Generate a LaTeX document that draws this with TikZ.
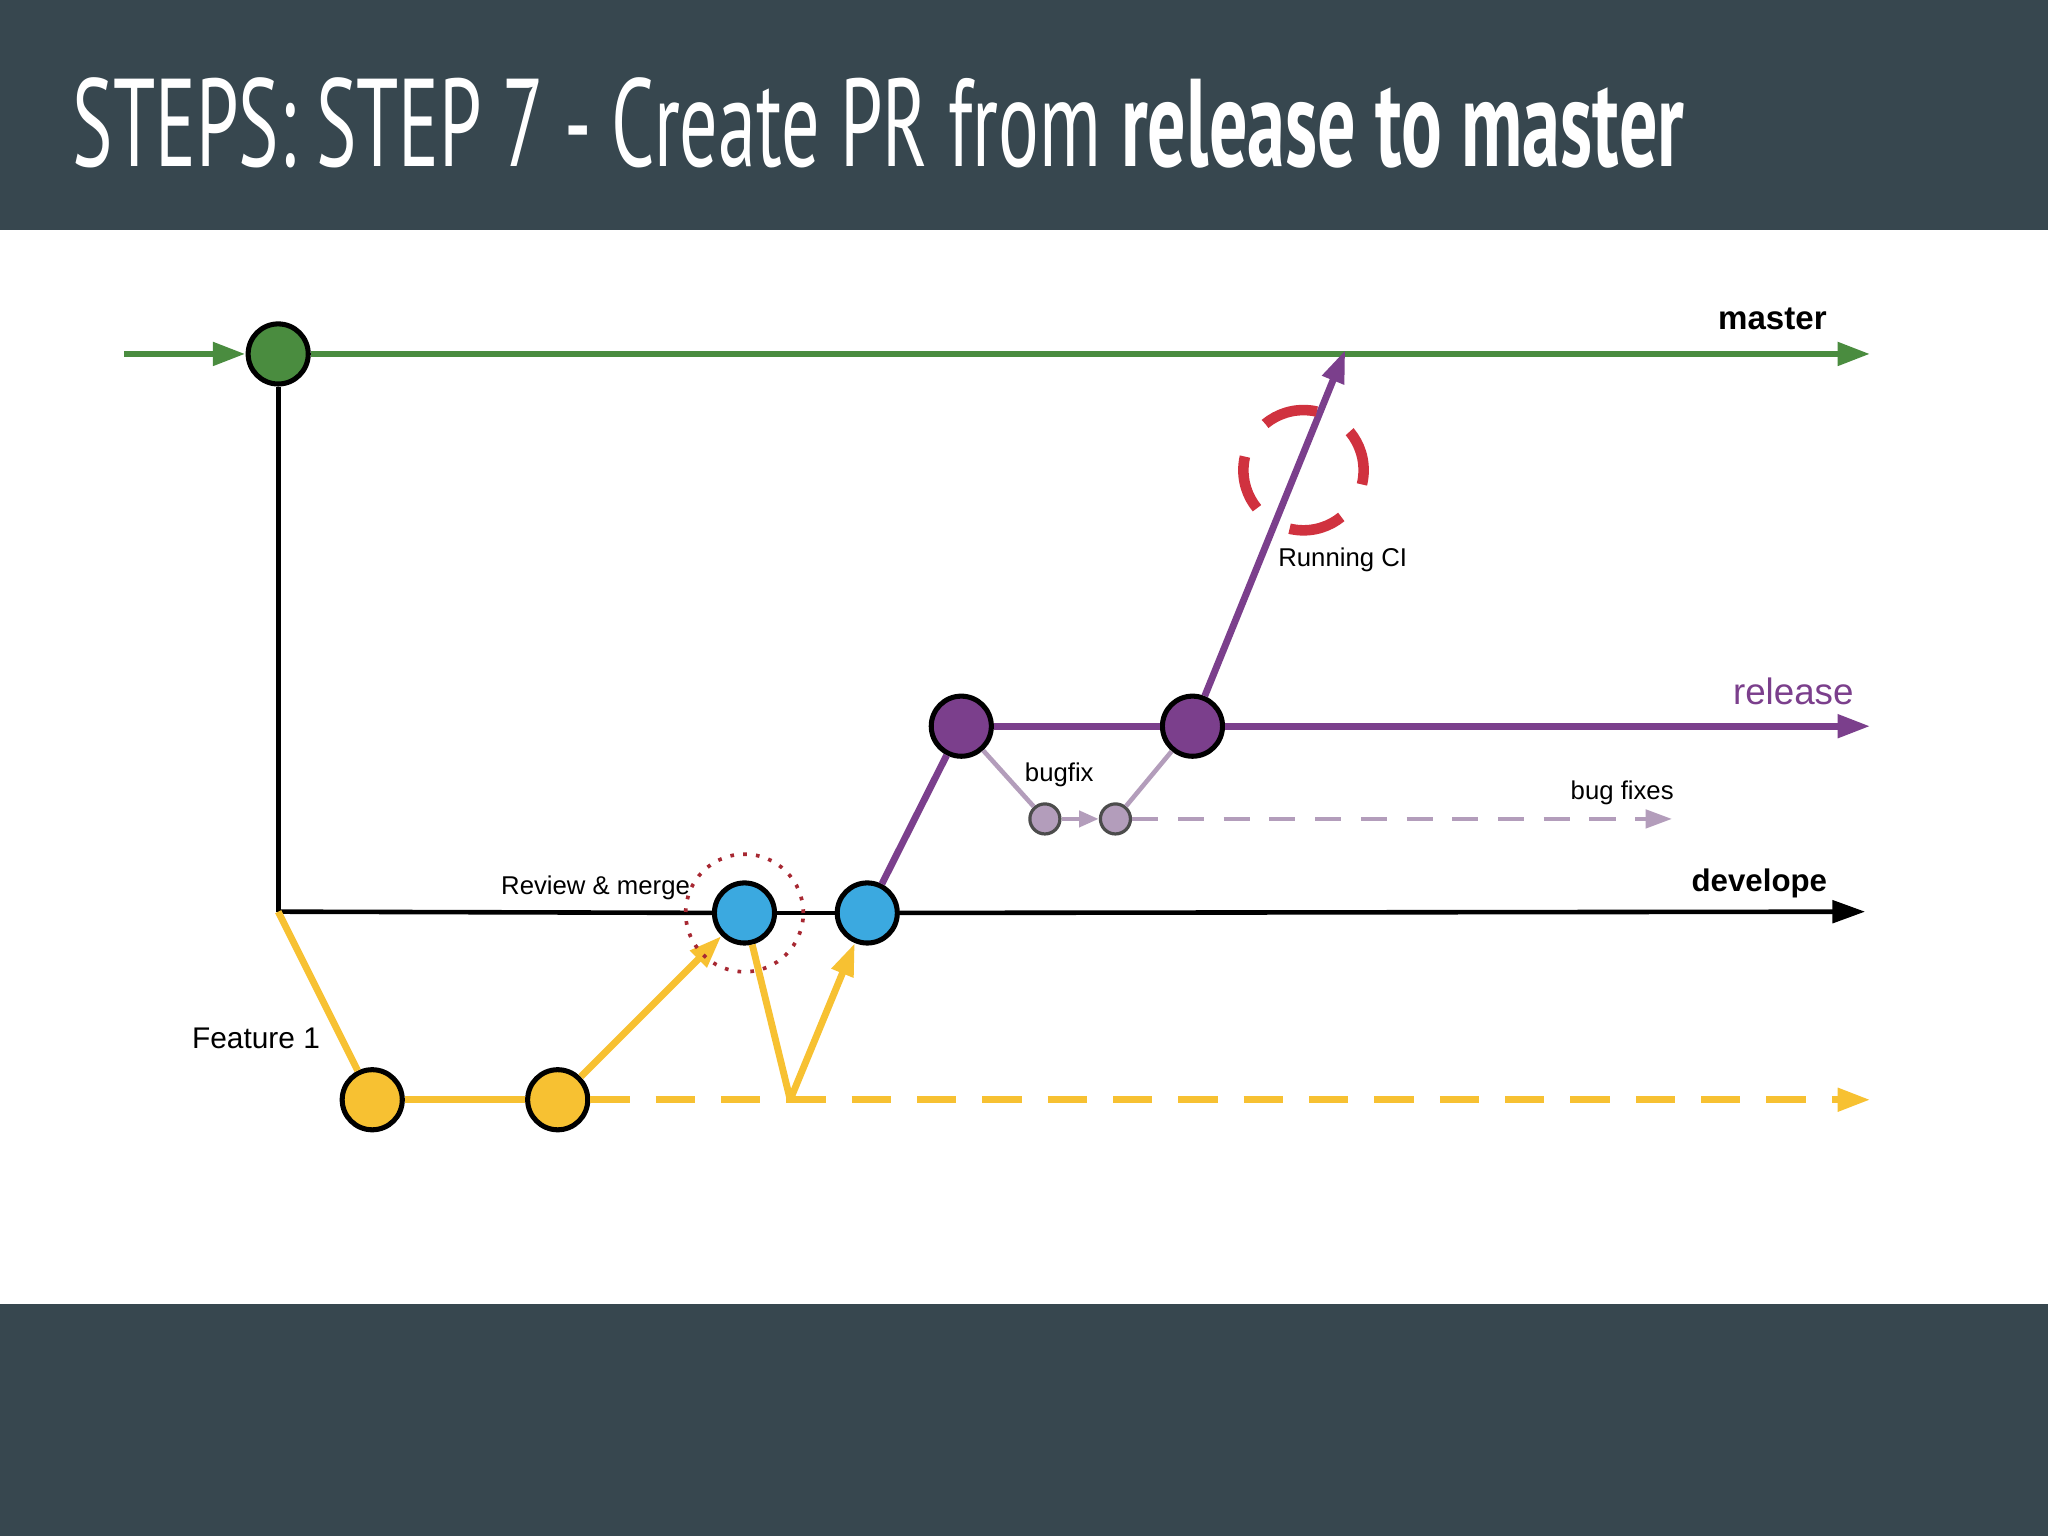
\documentclass[tikz,border=0pt]{standalone}
\usepackage{fontspec}
\setmainfont{Liberation Sans}
\newfontfamily\titlefont{PT Sans}
\usetikzlibrary{arrows.meta}
\definecolor{band}{HTML}{37474F}
\definecolor{gr}{HTML}{4A8C3F}
\definecolor{ye}{HTML}{F7C132}
\definecolor{bl}{HTML}{3BA9E0}
\definecolor{pu}{HTML}{7B3F8C}
\definecolor{lp}{HTML}{B39DBB}
\definecolor{rd}{HTML}{D0323F}
\begin{document}
\begin{tikzpicture}[x=0.01cm,y=-0.01cm,
  commit/.style={circle,draw=black,line width=1.1pt,minimum size=0.46cm,inner sep=0pt},
  small/.style={circle,draw=black!70,line width=0.7pt,minimum size=0.23cm,inner sep=0pt,fill=lp},
  tip/.style={-{Triangle[length=0.25cm,width=0.17cm]}},
  lbl/.style={font=\fontsize{5.6}{7}\selectfont}]
\useasboundingbox (0,0) rectangle (1568,1176);
\fill[band] (0,0) rectangle (1568,176);
\fill[band] (0,998) rectangle (1568,1176);
\node[anchor=west,text=white,inner sep=0pt] (title) at (55,94) {\resizebox{12.33cm}{0.68cm}{\titlefont STEPS: STEP 7 - Create PR from \textbf{release to master}}};
% coordinates
\coordinate (mstart) at (95,271);
\coordinate (mend) at (1432,271);
\coordinate (corner) at (213,698);
\coordinate (dend) at (1428,698);
\coordinate (rend) at (1432,556);
\coordinate (yend) at (1432,842);
\coordinate (vdip) at (605,842);
\coordinate (ci) at (1030,268);
\coordinate (bfend) at (1280,627);
% nodes
\node[commit,fill=gr] (g) at (213,271) {};
\node[commit,fill=ye] (y1) at (285,842) {};
\node[commit,fill=ye] (y2) at (427,842) {};
\node[commit,fill=bl] (b1) at (570,699) {};
\node[commit,fill=bl] (b2) at (664,699) {};
\node[commit,fill=pu] (p1) at (736,556) {};
\node[commit,fill=pu] (p2) at (913,556) {};
\node[small] (s1) at (800,627) {};
\node[small] (s2) at (854,627) {};
% master
\draw[gr,line width=1.5pt,tip] (mstart) -- (g);
\draw[gr,line width=1.5pt,tip] (g) -- (mend);
% develope
\draw[black,line width=1pt] (g) -- (corner);
\draw[black,line width=1pt] (corner) -- (b1);
\draw[black,line width=1pt] (b1) -- (b2);
\draw[black,line width=1pt,tip] (b2) -- (dend);
% feature
\draw[ye,line width=1.5pt] (corner) -- (y1);
\draw[ye,line width=1.5pt] (y1) -- (y2);
\draw[ye,line width=1.5pt,dash pattern=on 0.3cm off 0.2cm,tip] (y2) -- (yend);
\draw[ye,line width=1.5pt,tip] (y2) -- (b1);
\draw[ye,line width=1.5pt] (b1) -- (vdip);
\draw[ye,line width=1.5pt,tip] (vdip) -- (b2);
\draw[rd!80!black,dotted,line width=0.8pt] (b1) circle (0.45cm);
% release
\draw[pu,line width=1.5pt] (b2) -- (p1);
\draw[pu,line width=1.5pt] (p1) -- (p2);
\draw[pu,line width=1.5pt,tip] (p2) -- (rend);
\draw[pu,line width=1.5pt,tip] (p2) -- (ci);
% bugfix
\draw[lp,line width=1pt] (p1) -- (s1);
\draw[lp,line width=1pt,-{Triangle[length=0.15cm,width=0.12cm]}] (s1) -- (s2);
\draw[lp,line width=1pt] (s2) -- (p2);
\draw[lp,line width=0.8pt,dash pattern=on 0.2cm off 0.15cm,-{Triangle[length=0.2cm,width=0.14cm]}] (s2) -- (bfend);
% running CI
\draw[rd,line width=2.3pt,dash pattern=on 0.42cm off 0.3cm,dash phase=0.1cm] (998,360) circle (0.46cm);
% labels
\node[font=\bfseries\fontsize{7.2}{9}\selectfont] (lm) at (1357,244) {master};
\node[font=\bfseries\fontsize{6.8}{8}\selectfont] (ld) at (1347,676) {develope};
\node[text=pu,font=\fontsize{8}{10}\selectfont] (lr) at (1373,529) {release};
\node[lbl] (lci) at (1028,429) {Running CI};
\node[lbl] (lbf) at (811,593) {bugfix};
\node[lbl] (lbfs) at (1242,607) {bug fixes};
\node[lbl] (lrm) at (456,680) {Review \& merge};
\node[font=\fontsize{6.5}{8}\selectfont] (lf) at (196,795) {Feature 1};
\end{tikzpicture}
\end{document}
